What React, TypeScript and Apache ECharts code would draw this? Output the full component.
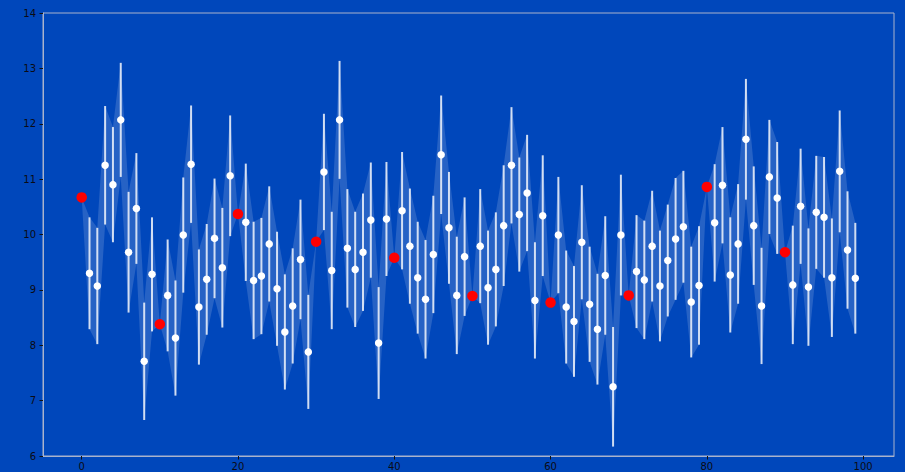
import React, { useEffect, useRef } from "react";
import * as echarts from "echarts";

const values = [
  10.67, 9.3, 9.07, 11.25, 10.9, 12.07, 9.68, 10.47, 7.71, 9.28,
  8.38, 8.9, 8.13, 9.99, 11.27, 8.69, 9.19, 9.93, 9.4, 11.06,
  10.37, 10.22, 9.17, 9.25, 9.83, 9.02, 8.24, 8.71, 9.55, 7.88,
  9.87, 11.13, 9.35, 12.07, 9.75, 9.37, 9.68, 10.26, 8.04, 10.28,
  9.58, 10.43, 9.79, 9.22, 8.83, 9.64, 11.44, 10.12, 8.9, 9.6,
  8.89, 9.79, 9.04, 9.37, 10.16, 11.25, 10.36, 10.75, 8.81, 10.34,
  8.77, 9.99, 8.69, 8.43, 9.86, 8.74, 8.29, 9.26, 7.25, 9.99,
  8.9, 9.33, 9.18, 9.79, 9.07, 9.53, 9.92, 10.14, 8.78, 9.08,
  10.86, 10.21, 10.89, 9.27, 9.83, 11.72, 10.16, 8.71, 11.04, 10.66,
  9.68, 9.09, 10.51, 9.05, 10.4, 10.31, 9.22, 11.14, 9.72, 9.21,
];

const errors = [
  0, 1.01, 1.05, 1.07, 1.04, 1.03, 1.09, 1.0, 1.06, 1.03,
  0, 1.01, 1.04, 1.04, 1.06, 1.04, 1.0, 1.08, 1.08, 1.09,
  0, 1.06, 1.06, 1.05, 1.04, 1.03, 1.04, 1.04, 1.08, 1.03,
  0, 1.05, 1.06, 1.065, 1.07, 1.04, 1.06, 1.04, 1.01, 1.03,
  0, 1.06, 1.04, 1.01, 1.07, 1.06, 1.07, 1.01, 1.06, 1.07,
  0, 1.03, 1.03, 1.03, 1.09, 1.05, 1.03, 1.05, 1.05, 1.09,
  0, 1.05, 1.02, 1.0, 1.03, 1.04, 1.0, 1.07, 1.08, 1.09,
  0, 1.02, 1.07, 1.0, 1.0, 1.01, 1.1, 1.01, 1.0, 1.07,
  0, 1.06, 1.05, 1.04, 1.08, 1.09, 1.07, 1.05, 1.03, 1.01,
  0, 1.07, 1.04, 1.06, 1.02, 1.09, 1.07, 1.1, 1.06, 1.0,
];

const highlighted = [0, 10, 20, 30, 40, 50, 60, 70, 80, 90];

const xTicks = [0, 20, 40, 60, 80, 100];
const yTicks = [6, 7, 8, 9, 10, 11, 12, 13, 14];

export default function App() {
  const ref = useRef<HTMLDivElement>(null);

  useEffect(() => {
    if (!ref.current) return;
    const chart = echarts.init(ref.current, undefined, { renderer: "svg" });

    const xs = values.map((_, i) => i);
    const whitePts = xs
      .filter((i) => highlighted.indexOf(i) < 0)
      .map((i) => [i, values[i]]);
    const redPts = highlighted.map((i) => [i, values[i]]);
    const barData = xs
      .filter((i) => errors[i] > 0)
      .map((i) => [i, values[i] - errors[i], values[i] + errors[i]]);

    const labelStyle = {
      color: "#0b0b14",
      fontFamily: "DejaVu Sans",
      fontSize: 10,
    };

    chart.setOption({
      animation: false,
      backgroundColor: "#0047bb",
      grid: {
        left: 43,
        top: 13,
        right: 11,
        bottom: 16,
        show: true,
        borderColor: "#a9b3cc",
        borderWidth: 1,
        backgroundColor: "transparent",
      },
      xAxis: {
        type: "value",
        min: -4.95,
        max: 103.95,
        splitLine: { show: false },
        axisLine: {
          show: true,
          onZero: false,
          lineStyle: { color: "#a9b3cc", width: 1 },
        },
        axisTick: {
          show: true,
          length: 3.5,
          lineStyle: { color: "#111" },
          customValues: xTicks,
        },
        axisLabel: { ...labelStyle, margin: 5, customValues: xTicks },
      },
      yAxis: {
        type: "value",
        min: yTicks[0],
        max: yTicks[yTicks.length - 1],
        interval: 1,
        splitLine: { show: false },
        axisLine: {
          show: true,
          onZero: false,
          lineStyle: { color: "#a9b3cc", width: 1 },
        },
        axisTick: { show: true, length: 3.5, lineStyle: { color: "#111" } },
        axisLabel: { ...labelStyle, margin: 7 },
      },
      series: [
        {
          type: "custom",
          z: 1,
          silent: true,
          data: [[0]],
          renderItem: (params: any, api: any) => {
            const upper = xs.map((i) => api.coord([i, values[i] + errors[i]]));
            const lower = xs
              .slice()
              .reverse()
              .map((i) => api.coord([i, values[i] - errors[i]]));
            return {
              type: "polygon",
              shape: { points: upper.concat(lower) },
              style: { fill: "rgba(255,255,255,0.15)", stroke: "none" },
            };
          },
        },
        {
          type: "custom",
          z: 2,
          silent: true,
          data: barData,
          renderItem: (params: any, api: any) => {
            const x = api.value(0);
            const p1 = api.coord([x, api.value(1)]);
            const p2 = api.coord([x, api.value(2)]);
            return {
              type: "line",
              shape: { x1: p1[0], y1: p1[1], x2: p2[0], y2: p2[1] },
              style: { stroke: "rgba(255,255,255,0.8)", lineWidth: 2 },
            };
          },
        },
        {
          type: "scatter",
          z: 3,
          data: whitePts,
          symbolSize: 7.5,
          itemStyle: { color: "#ffffff", opacity: 1 },
        },
        {
          type: "scatter",
          z: 4,
          data: redPts,
          symbolSize: 10.5,
          itemStyle: { color: "#ff0000", opacity: 1 },
        },
      ],
    });

    return () => chart.dispose();
  }, []);

  return (
    <div
      ref={ref}
      style={{ position: "fixed", left: 0, top: 0, width: 905, height: 472 }}
    />
  );
}
